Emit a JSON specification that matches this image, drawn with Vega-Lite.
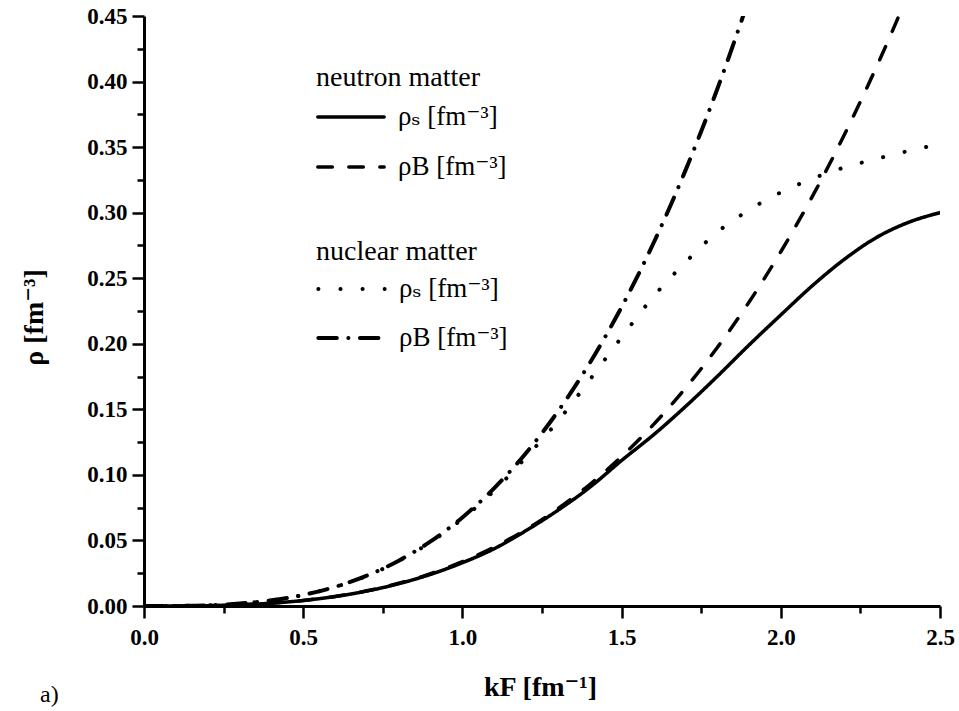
{
  "$schema": "https://vega.github.io/schema/vega-lite/v6.json",
  "width": 796,
  "height": 590,
  "autosize": "none",
  "padding": {"left": 144, "top": 16, "right": 19, "bottom": 105},
  "background": "white",
  "config": {
    "view": {"stroke": null},
    "font": "Liberation Serif, Times New Roman, DejaVu Serif, serif",
    "axis": {
      "domainColor": "black",
      "domainWidth": 3,
      "tickColor": "black",
      "tickWidth": 2.5,
      "labelFont": "Liberation Serif, Times New Roman, DejaVu Serif, serif",
      "labelFontWeight": "bold",
      "labelFontSize": 23,
      "labelColor": "black",
      "titleFont": "Liberation Serif, Times New Roman, DejaVu Serif, serif",
      "titleFontWeight": "bold",
      "titleFontSize": 28,
      "titleColor": "black",
      "grid": false,
      "labelFlush": false,
      "labelOverlap": false,
      "labelBound": false
    },
    "legend": {"padding": 0},
    "title": {"font": "Liberation Serif, Times New Roman, DejaVu Serif, serif", "fontWeight": "normal", "fontSize": 24, "color": "black"}
  },
  "title": {"text": "a)", "orient": "bottom", "anchor": "start", "frame": "group", "dx": -104, "offset": -18},
  "datasets": {
    "neutron": [
      {"series": "s", "k": 0, "rho": 0},
      {"series": "s", "k": 0.1, "rho": 0.00003},
      {"series": "s", "k": 0.2, "rho": 0.00027},
      {"series": "s", "k": 0.3, "rho": 0.0009},
      {"series": "s", "k": 0.4, "rho": 0.00215},
      {"series": "s", "k": 0.5, "rho": 0.0042},
      {"series": "s", "k": 0.6, "rho": 0.0072},
      {"series": "s", "k": 0.7, "rho": 0.0114},
      {"series": "s", "k": 0.8, "rho": 0.017},
      {"series": "s", "k": 0.9, "rho": 0.0241},
      {"series": "s", "k": 1.0, "rho": 0.033},
      {"series": "s", "k": 1.1, "rho": 0.0437},
      {"series": "s", "k": 1.2, "rho": 0.0575},
      {"series": "s", "k": 1.3, "rho": 0.073},
      {"series": "s", "k": 1.4, "rho": 0.0905},
      {"series": "s", "k": 1.5, "rho": 0.111},
      {"series": "s", "k": 1.6, "rho": 0.1305},
      {"series": "s", "k": 1.7, "rho": 0.152},
      {"series": "s", "k": 1.8, "rho": 0.175},
      {"series": "s", "k": 1.9, "rho": 0.199},
      {"series": "s", "k": 2.0, "rho": 0.222},
      {"series": "s", "k": 2.1, "rho": 0.2445},
      {"series": "s", "k": 2.2, "rho": 0.2645},
      {"series": "s", "k": 2.3, "rho": 0.281},
      {"series": "s", "k": 2.4, "rho": 0.2925},
      {"series": "s", "k": 2.5, "rho": 0.3},
      {"series": "B", "k": 0, "rho": 0},
      {"series": "B", "k": 0.1, "rho": 0.0000338},
      {"series": "B", "k": 0.2, "rho": 0.00027},
      {"series": "B", "k": 0.3, "rho": 0.00091},
      {"series": "B", "k": 0.4, "rho": 0.00216},
      {"series": "B", "k": 0.5, "rho": 0.00422},
      {"series": "B", "k": 0.6, "rho": 0.0073},
      {"series": "B", "k": 0.7, "rho": 0.01158},
      {"series": "B", "k": 0.8, "rho": 0.0173},
      {"series": "B", "k": 0.9, "rho": 0.02462},
      {"series": "B", "k": 1.0, "rho": 0.03377},
      {"series": "B", "k": 1.1, "rho": 0.04495},
      {"series": "B", "k": 1.2, "rho": 0.05836},
      {"series": "B", "k": 1.3, "rho": 0.0742},
      {"series": "B", "k": 1.4, "rho": 0.09268},
      {"series": "B", "k": 1.5, "rho": 0.11399},
      {"series": "B", "k": 1.6, "rho": 0.13834},
      {"series": "B", "k": 1.7, "rho": 0.16593},
      {"series": "B", "k": 1.8, "rho": 0.19697},
      {"series": "B", "k": 1.9, "rho": 0.23166},
      {"series": "B", "k": 2.0, "rho": 0.2702},
      {"series": "B", "k": 2.1, "rho": 0.31277},
      {"series": "B", "k": 2.2, "rho": 0.35961},
      {"series": "B", "k": 2.3, "rho": 0.41091},
      {"series": "B", "k": 2.4, "rho": 0.46689},
      {"series": "B", "k": 2.5, "rho": 0.5277}
    ],
    "nuclear": [
      {"series": "s", "k": 0, "rho": 0},
      {"series": "s", "k": 0.1, "rho": 0.00007},
      {"series": "s", "k": 0.2, "rho": 0.00054},
      {"series": "s", "k": 0.3, "rho": 0.0018},
      {"series": "s", "k": 0.4, "rho": 0.0043},
      {"series": "s", "k": 0.5, "rho": 0.0084},
      {"series": "s", "k": 0.6, "rho": 0.0145},
      {"series": "s", "k": 0.7, "rho": 0.023},
      {"series": "s", "k": 0.8, "rho": 0.0343},
      {"series": "s", "k": 0.9, "rho": 0.0487},
      {"series": "s", "k": 1.0, "rho": 0.0665},
      {"series": "s", "k": 1.1, "rho": 0.088},
      {"series": "s", "k": 1.2, "rho": 0.1135},
      {"series": "s", "k": 1.3, "rho": 0.141},
      {"series": "s", "k": 1.4, "rho": 0.1725},
      {"series": "s", "k": 1.5, "rho": 0.205},
      {"series": "s", "k": 1.6, "rho": 0.236},
      {"series": "s", "k": 1.7, "rho": 0.262},
      {"series": "s", "k": 1.8, "rho": 0.285},
      {"series": "s", "k": 1.9, "rho": 0.302},
      {"series": "s", "k": 2.0, "rho": 0.3155},
      {"series": "s", "k": 2.1, "rho": 0.326},
      {"series": "s", "k": 2.2, "rho": 0.3345},
      {"series": "s", "k": 2.3, "rho": 0.341},
      {"series": "s", "k": 2.4, "rho": 0.347},
      {"series": "s", "k": 2.5, "rho": 0.3524},
      {"series": "B", "k": 0, "rho": 0},
      {"series": "B", "k": 0.1, "rho": 0.0000675},
      {"series": "B", "k": 0.2, "rho": 0.00054},
      {"series": "B", "k": 0.3, "rho": 0.00182},
      {"series": "B", "k": 0.4, "rho": 0.00432},
      {"series": "B", "k": 0.5, "rho": 0.00844},
      {"series": "B", "k": 0.6, "rho": 0.01459},
      {"series": "B", "k": 0.7, "rho": 0.02317},
      {"series": "B", "k": 0.8, "rho": 0.03459},
      {"series": "B", "k": 0.9, "rho": 0.04924},
      {"series": "B", "k": 1.0, "rho": 0.06755},
      {"series": "B", "k": 1.1, "rho": 0.08991},
      {"series": "B", "k": 1.2, "rho": 0.11673},
      {"series": "B", "k": 1.3, "rho": 0.14841},
      {"series": "B", "k": 1.4, "rho": 0.18536},
      {"series": "B", "k": 1.5, "rho": 0.22798},
      {"series": "B", "k": 1.6, "rho": 0.27668},
      {"series": "B", "k": 1.7, "rho": 0.33187},
      {"series": "B", "k": 1.8, "rho": 0.39395},
      {"series": "B", "k": 1.9, "rho": 0.46333},
      {"series": "B", "k": 2.0, "rho": 0.5404}
    ]
  },
  "encoding": {
    "x": {
      "field": "k", "type": "quantitative",
      "scale": {"domain": [0, 2.5], "nice": false},
      "axis": {
        "title": "kF [fm⁻¹]",
        "values": [0, 0.25, 0.5, 0.75, 1, 1.25, 1.5, 1.75, 2, 2.25, 2.5],
        "format": ".1f",
        "labelExpr": "abs(datum.value*2 - round(datum.value*2)) < 0.001 ? datum.label : ''",
        "tickSize": {"condition": {"test": "abs(datum.value*2 - round(datum.value*2)) < 0.001", "value": 12}, "value": 7},
        "labelPadding": 8,
        "titleX": 396,
        "titleY": 89,
        "titleBaseline": "alphabetic",
        "titleAnchor": "middle"
      }
    },
    "y": {
      "field": "rho", "type": "quantitative",
      "scale": {"domain": [0, 0.45], "nice": false},
      "axis": {
        "title": "ρ [fm⁻³]",
        "values": [0, 0.025, 0.05, 0.075, 0.1, 0.125, 0.15, 0.175, 0.2, 0.225, 0.25, 0.275, 0.3, 0.325, 0.35, 0.375, 0.4, 0.425, 0.45],
        "format": ".2f",
        "labelExpr": "abs(datum.value*20 - round(datum.value*20)) < 0.001 ? datum.label : ''",
        "tickSize": {"condition": {"test": "abs(datum.value*20 - round(datum.value*20)) < 0.001", "value": 12}, "value": 7},
        "labelPadding": 5,
        "titleX": -102,
        "titleY": 301,
        "titleBaseline": "alphabetic",
        "titleAngle": -90,
        "titleAnchor": "middle"
      }
    }
  },
  "layer": [
    {
      "data": {"name": "neutron"},
      "mark": {"type": "line", "color": "black", "strokeWidth": 3.5, "strokeCap": "round", "clip": true, "interpolate": "monotone"},
      "encoding": {
        "strokeDash": {
          "field": "series", "type": "nominal",
          "scale": {"domain": ["s", "B"], "range": [[1, 0], [14.5, 16.5]]},
          "legend": {
            "title": "neutron matter",
            "orient": "none",
            "legendX": 172,
            "legendY": 48,
            "titleFont": "Liberation Serif, Times New Roman, DejaVu Serif, serif",
            "titleFontSize": 28,
            "titleFontWeight": "normal",
            "titleColor": "black",
            "titlePadding": 10,
            "titleAnchor": "start",
            "labelFont": "Liberation Serif, Times New Roman, DejaVu Serif, serif",
            "labelFontSize": 27,
            "labelColor": "black",
            "labelOffset": 12,
            "labelExpr": "datum.value == 's' ? 'ρₛ [fm⁻³]' : 'ρB [fm⁻³]'",
            "symbolType": "stroke",
            "symbolSize": 4400,
            "symbolStrokeWidth": 3.5,
            "symbolStrokeColor": "black",
            "clipHeight": 30,
            "rowPadding": 20,
            "encode": {"symbols": {"update": {"strokeCap": {"value": "round"}}}}
          }
        }
      }
    },
    {
      "data": {"name": "nuclear"},
      "mark": {"type": "line", "color": "black", "strokeWidth": 4, "strokeCap": "round", "clip": true, "interpolate": "monotone"},
      "encoding": {
        "strokeDash": {
          "field": "series", "type": "nominal",
          "scale": {"domain": ["s", "B"], "range": [[0.1, 22], [18.5, 11.5, 0.1, 11.5]]},
          "legend": {
            "title": "nuclear matter",
            "orient": "none",
            "legendX": 172,
            "legendY": 222,
            "titleFont": "Liberation Serif, Times New Roman, DejaVu Serif, serif",
            "titleFontSize": 28,
            "titleFontWeight": "normal",
            "titleColor": "black",
            "titlePadding": 8,
            "titleAnchor": "start",
            "labelFont": "Liberation Serif, Times New Roman, DejaVu Serif, serif",
            "labelFontSize": 27,
            "labelColor": "black",
            "labelOffset": 12,
            "labelExpr": "datum.value == 's' ? 'ρₛ [fm⁻³]' : 'ρB [fm⁻³]'",
            "symbolType": "stroke",
            "symbolSize": 4400,
            "symbolStrokeWidth": 4,
            "symbolStrokeColor": "black",
            "clipHeight": 30,
            "rowPadding": 19,
            "encode": {"symbols": {"update": {"strokeCap": {"value": "round"}}}}
          }
        }
      }
    }
  ],
  "resolve": {"scale": {"strokeDash": "independent"}, "legend": {"strokeDash": "independent"}}
}
